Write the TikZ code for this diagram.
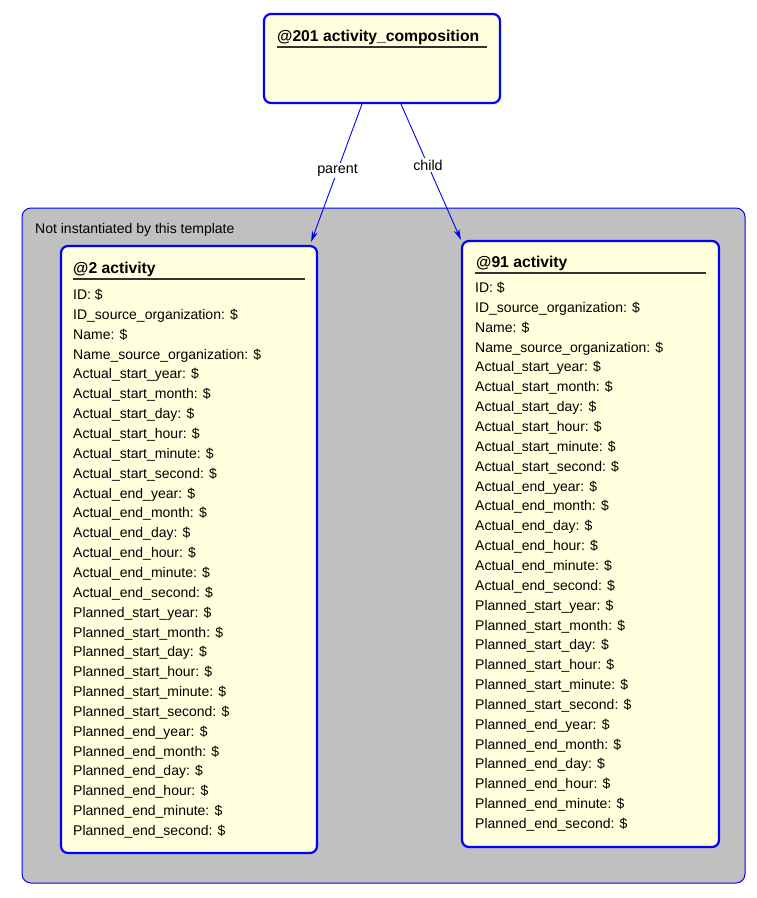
\documentclass[tikz,border=0pt]{standalone}
\usepackage{fontspec}
\setmainfont{Liberation Sans}
\usepackage{tikz}
\usetikzlibrary{arrows.meta}
\usetikzlibrary{positioning}
\definecolor{boxblue}{RGB}{0,0,255}
\definecolor{noteyellow}{RGB}{255,255,221}
\definecolor{tmplgray}{RGB}{192,192,192}
\tikzset{ 
entity/.style = { rectangle, draw = boxblue, fill = noteyellow, line width = 2.2pt, rounded corners = 7pt },
template/.style = { rectangle, draw = boxblue, fill = tmplgray, line width = 1pt, rounded corners = 9pt },
entity title/.style = { anchor = base west, inner sep = 0pt, font = \fontsize{15.7}{18}\bfseries },
entity rule/.style = { draw = black!80, line width = 1.5pt },
entity body/.style = { anchor = north west, inner sep = 0pt, align = left, font = \fontsize{14}{19.85}\selectfont },
role/.style = { draw = boxblue, line width = 0.9pt, -{Stealth[length = 11pt, width = 6pt]} },
role label/.style = { fill = white, inner sep = 1.5pt, font = \fontsize{14.3}{16}\selectfont },
}
\begin{document}
\begin{tikzpicture}[x = 1pt, y = -1pt]
    \useasboundingbox[fill = white] (0, 0) rectangle (756, 898);
    % template frame
    \node[template, minimum width = 723pt, minimum height = 675pt] (tmpl) at (383.5, 545.5) {};
    \node[anchor = west, inner sep = 0pt, font = \fontsize{14}{16}\selectfont] (tmpl note) at (35, 230) {Not instantiated by this template};
    % composition
    \node[entity, minimum width = 236pt, minimum height = 89pt] (comp) at (382, 58.5) {};
    \node[entity title] (comp title) at (277, 41) {@201 activity\_composition};
    \path[entity rule] (277, 47) -- (487, 47);
    % parent activity
    \node[entity, minimum width = 256pt, minimum height = 607pt] (act2) at (189, 549.5) {};
    \node[entity title] (act2 title) at (73, 273) {@2 activity};
    \path[entity rule] (73, 279) -- (305, 279);
    \node[entity body] (act2 body) at (73, 289) {ID: \$\\
        ID\_source\_organization: \$\\
        Name: \$\\
        Name\_source\_organization: \$\\
        Actual\_start\_year: \$\\
        Actual\_start\_month: \$\\
        Actual\_start\_day: \$\\
        Actual\_start\_hour: \$\\
        Actual\_start\_minute: \$\\
        Actual\_start\_second: \$\\
        Actual\_end\_year: \$\\
        Actual\_end\_month: \$\\
        Actual\_end\_day: \$\\
        Actual\_end\_hour: \$\\
        Actual\_end\_minute: \$\\
        Actual\_end\_second: \$\\
        Planned\_start\_year: \$\\
        Planned\_start\_month: \$\\
        Planned\_start\_day: \$\\
        Planned\_start\_hour: \$\\
        Planned\_start\_minute: \$\\
        Planned\_start\_second: \$\\
        Planned\_end\_year: \$\\
        Planned\_end\_month: \$\\
        Planned\_end\_day: \$\\
        Planned\_end\_hour: \$\\
        Planned\_end\_minute: \$\\
        Planned\_end\_second: \$};
    % child activity
    \node[entity, minimum width = 257pt, minimum height = 606pt] (act91) at (590.5, 544) {};
    \node[entity title] (act91 title) at (476, 267) {@91 activity};
    \path[entity rule] (475, 273) -- (706, 273);
    \node[entity body] (act91 body) at (475, 282) {ID: \$\\
        ID\_source\_organization: \$\\
        Name: \$\\
        Name\_source\_organization: \$\\
        Actual\_start\_year: \$\\
        Actual\_start\_month: \$\\
        Actual\_start\_day: \$\\
        Actual\_start\_hour: \$\\
        Actual\_start\_minute: \$\\
        Actual\_start\_second: \$\\
        Actual\_end\_year: \$\\
        Actual\_end\_month: \$\\
        Actual\_end\_day: \$\\
        Actual\_end\_hour: \$\\
        Actual\_end\_minute: \$\\
        Actual\_end\_second: \$\\
        Planned\_start\_year: \$\\
        Planned\_start\_month: \$\\
        Planned\_start\_day: \$\\
        Planned\_start\_hour: \$\\
        Planned\_start\_minute: \$\\
        Planned\_start\_second: \$\\
        Planned\_end\_year: \$\\
        Planned\_end\_month: \$\\
        Planned\_end\_day: \$\\
        Planned\_end\_hour: \$\\
        Planned\_end\_minute: \$\\
        Planned\_end\_second: \$};
    % roles
    \draw[role] ([xshift = -20pt]comp.south) -- node[role label, pos = 0.48] {parent} ([shift = {(-7, -3)}]act2.north east);
    \draw[role] ([xshift = 19pt]comp.south) -- node[role label, pos = 0.45] {child} (act91.north west);
  \end{tikzpicture}
\end{document}
